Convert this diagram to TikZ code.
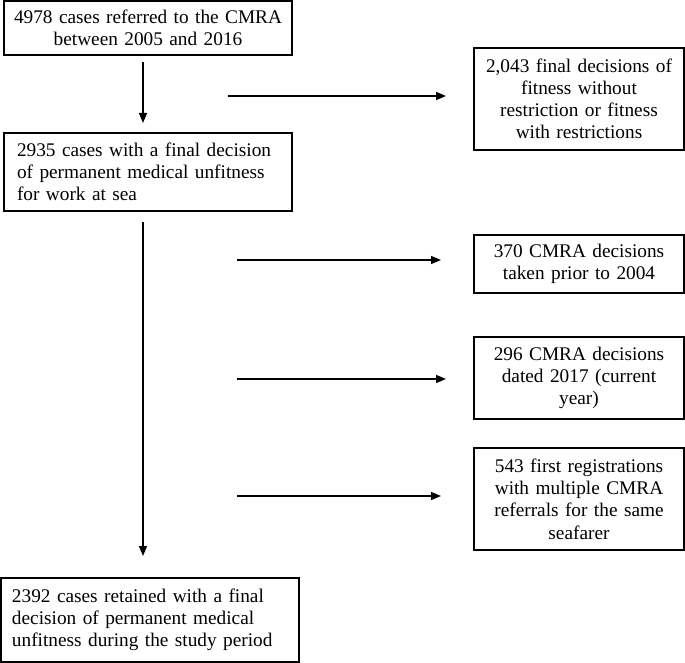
\documentclass[tikz,border=0pt]{standalone}
\usepackage{fontspec}
\setmainfont{Liberation Serif}
\usetikzlibrary{arrows.meta}
\begin{document}
\begin{tikzpicture}[x=1pt,y=-1pt,
  box/.style={draw=black,line width=1.4pt,inner sep=0pt,font=\fontsize{19.3}{22.2}\selectfont},
  cbox/.style={box,align=center},
  lbox/.style={box,align=left},
  arr/.style={line width=1.4pt,-{Triangle[length=10pt,width=8pt]}}]
\useasboundingbox (0,0) rectangle (685,663);
\fill[white] (0,0) rectangle (685,663);
% main column
\node[cbox,minimum width=288pt,minimum height=54pt,text width=280pt] (b1) at (148,28) {4978 cases referred to the CMRA\\between 2005 and 2016};
\node[lbox,minimum width=288pt,minimum height=78pt,text width=262pt] (b2) at (148,172) {2935 cases with a final decision\\of permanent medical unfitness\\for work at sea};
\node[lbox,minimum width=298pt,minimum height=84pt,text width=276pt] (b3) at (150,620) {2392 cases retained with a final\\decision of permanent medical\\unfitness during the study period};
% right column
\node[cbox,minimum width=210pt,minimum height=102pt,text width=200pt] (r1) at (579,99) {2,043 final decisions of\\fitness without\\restriction or fitness\\with restrictions};
\node[cbox,minimum width=210pt,minimum height=58pt,text width=200pt] (r2) at (579,264) {370 CMRA decisions\\taken prior to 2004};
\node[cbox,minimum width=210pt,minimum height=82pt,text width=200pt] (r3) at (579,378) {296 CMRA decisions\\dated 2017 (current\\year)};
\node[cbox,minimum width=210pt,minimum height=102pt,text width=200pt] (r4) at (579,499) {543 first registrations\\with multiple CMRA\\referrals for the same\\seafarer};
% connector endpoints
\coordinate (v1s) at (143,62);
\coordinate (v1e) at (143,123);
\coordinate (v2s) at (143,222);
\coordinate (v2e) at (143,556);
\coordinate (h1s) at (228,96);
\coordinate (h1e) at (446,96);
\coordinate (h2s) at (237,260);
\coordinate (h2e) at (441,260);
\coordinate (h3s) at (237,379);
\coordinate (h3e) at (446,379);
\coordinate (h4s) at (237,496);
\coordinate (h4e) at (441,496);
\draw[arr] (v1s) -- (v1e);
\draw[arr] (v2s) -- (v2e);
\draw[arr] (h1s) -- (h1e);
\draw[arr] (h2s) -- (h2e);
\draw[arr] (h3s) -- (h3e);
\draw[arr] (h4s) -- (h4e);
\end{tikzpicture}
\end{document}
